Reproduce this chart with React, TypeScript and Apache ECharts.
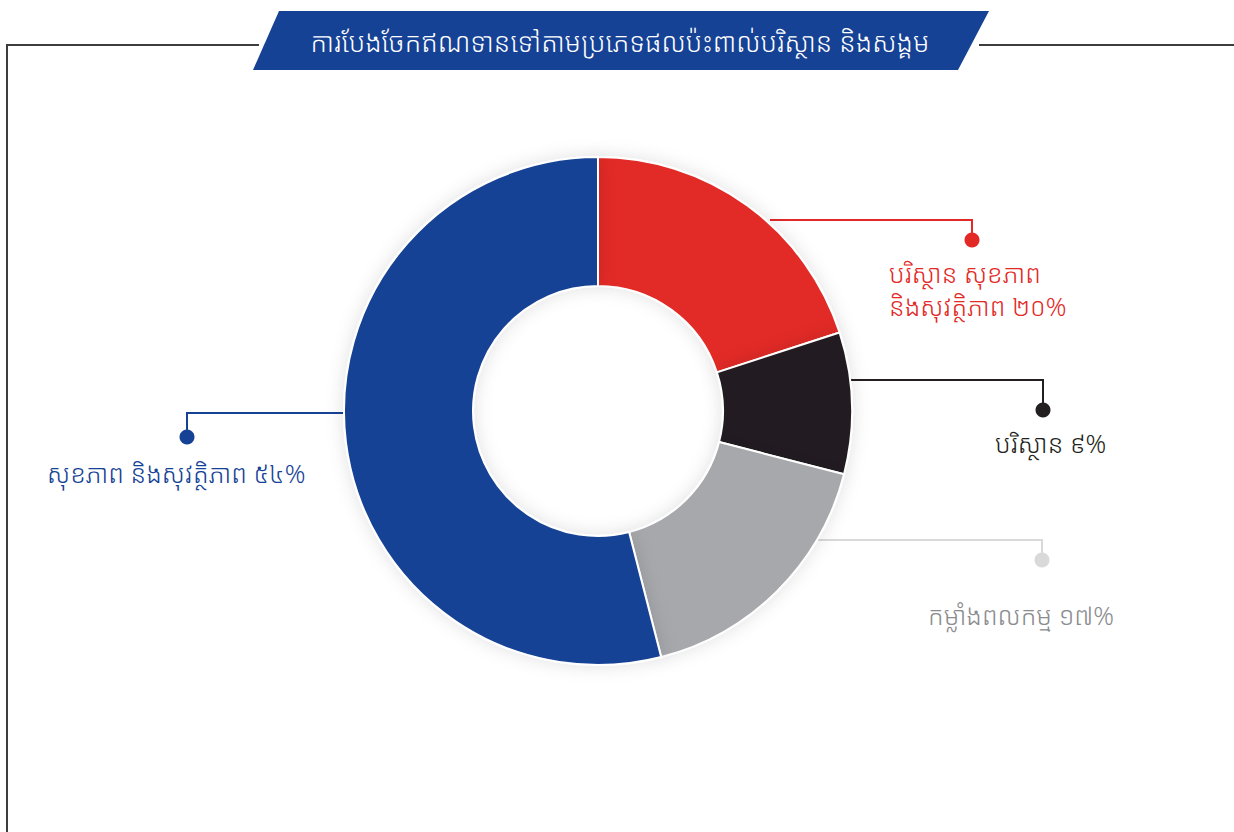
import React, { useEffect, useRef } from "react";
import * as echarts from "echarts";

const titleText = "ការបែងចែកឥណទានទៅតាមប្រភេទផលប៉ះពាល់បរិស្ថាន និងសង្គម";
const categories = [
  "បរិស្ថាន សុខភាព\nនិងសុវត្ថិភាព",
  "បរិស្ថាន",
  "កម្លាំងពលកម្ម",
  "សុខភាព និងសុវត្ថិភាព",
];
const values = [20, 9, 17, 54];
const valueLabels = ["២០%", "៩%", "១៧%", "៥៤%"];
const colors = ["#e22926", "#231f20", "#a7a8ab", "#164296"];
const labelColors = ["#e22926", "#231f20", "#8a8c8f", "#164296"];
const lineColors = ["#e22926", "#231f20", "#d9d9d9", "#164296"];

const FONT = "'Noto Sans Khmer', 'Khmer OS', 'Noto Sans', sans-serif";

export default function App() {
  const ref = useRef<HTMLDivElement>(null);
  useEffect(() => {
    if (!ref.current) return;
    const chart = echarts.init(ref.current, undefined, { renderer: "svg" });

    // leader annotation anchors: [lineStartX, lineY, dotX, dotY, textX, textY]
    const anchors = [
      [770, 220, 972, 240, 889, 289],
      [850, 380, 1043, 410, 995, 443],
      [815, 540, 1042, 560, 928, 615],
      [343, 413, 187, 437, 47, 473],
    ];

    const graphics: any[] = [
      { type: "line", shape: { x1: 7, y1: 45, x2: 259, y2: 45 }, style: { stroke: "#3d3d3d", lineWidth: 2 } },
      { type: "line", shape: { x1: 7, y1: 44, x2: 7, y2: 832 }, style: { stroke: "#3d3d3d", lineWidth: 2 } },
      { type: "line", shape: { x1: 979, y1: 45, x2: 1234, y2: 45 }, style: { stroke: "#3d3d3d", lineWidth: 2 } },
      {
        type: "polygon",
        shape: { points: [[253, 70], [279, 11], [989, 11], [958, 70]] },
        style: { fill: "#164296" },
      },
      {
        type: "text",
        x: 620,
        y: 41,
        style: {
          text: titleText,
          fill: "#ffffff",
          font: `300 26.8px ${FONT}`,
          align: "center",
          verticalAlign: "middle",
        },
      },
    ];

    anchors.forEach((a, i) => {
      const [sx, ly, dx, dy, tx, ty] = a;
      graphics.push({
        type: "polyline",
        shape: { points: [[sx, ly], [dx, ly], [dx, dy]] },
        style: { stroke: lineColors[i], lineWidth: 2, fill: "none" },
        z: 1,
      });
      graphics.push({
        type: "circle",
        shape: { cx: dx, cy: dy, r: 7.5 },
        style: { fill: lineColors[i] },
      });
      const text = categories[i] + " " + valueLabels[i];
      graphics.push({
        type: "text",
        x: tx,
        y: ty,
        style: {
          text,
          fill: labelColors[i],
          font: `300 25.5px ${FONT}`,
          align: "left",
          verticalAlign: "middle",
          lineHeight: 33,
        },
      });
    });

    chart.setOption({
      animation: false,
      backgroundColor: "#ffffff",
      graphic: graphics,
      series: [
        {
          type: "pie",
          center: [598, 411],
          radius: [125, 254],
          startAngle: 90,
          clockwise: true,
          label: { show: false },
          labelLine: { show: false },
          z: 3,
          itemStyle: {
            borderColor: "#ffffff",
            borderWidth: 2,
            shadowBlur: 18,
            shadowColor: "rgba(0,0,0,0.12)",
          },
          emphasis: { disabled: true },
          data: categories.map((c, i) => ({
            name: c,
            value: values[i],
            itemStyle: { color: colors[i] },
          })),
        },
      ],
    });
    return () => chart.dispose();
  }, []);
  return (
    <div
      ref={ref}
      style={{ position: "fixed", left: 0, top: 0, width: 1234, height: 832 }}
    />
  );
}
